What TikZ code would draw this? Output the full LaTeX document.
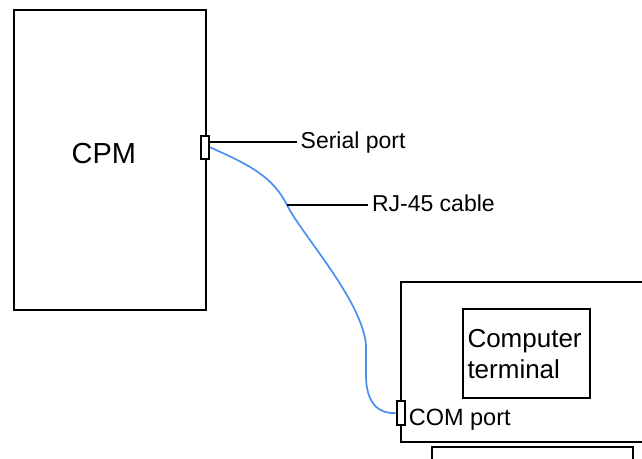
\documentclass[tikz,border=0pt]{standalone}
\usepackage{fontspec}
\setmainfont{Liberation Sans}
\definecolor{cableblue}{RGB}{74,144,240}
\begin{document}
\begin{tikzpicture}[x=1pt,y=-1pt,line width=2pt,
  boxnode/.style={draw,line width=2pt,inner sep=0pt,anchor=north west},
  portbox/.style={draw,fill=white,line width=2pt,minimum width=8.3pt,minimum height=23.3pt,inner sep=0pt},
  lbl/.style={font=\fontsize{23}{27.6}\selectfont,inner xsep=3pt,inner ysep=0pt,text height=16pt,text depth=3pt,anchor=west},
  cable/.style={draw=cableblue,line width=1.7pt}]
\useasboundingbox (0,0) rectangle (642,458);
% CPM
\node[boxnode,minimum width=191.4pt,minimum height=299.7pt] (cpm) at (13.3,9.3) {};
\node[font=\fontsize{29}{34}\selectfont,inner sep=0pt] (cpmtext) at (103.8,153.3) {CPM};
% computer
\draw (643,281.5) -- (401,281.5) -- (401,441.7) -- (643,441.7);
\draw (432,462) -- (432,446.7) -- (633.3,446.7) -- (633.3,462);
\node[boxnode,minimum width=126.8pt,minimum height=89pt] (term) at (461.7,308) {};
\node[font=\fontsize{26}{31}\selectfont,inner sep=0pt,align=left,anchor=base west] (termtext) at (466.5,378.3) {Computer\\terminal};
% ports
\node[portbox] (cpmport) at (204.85,147.3) {};
\node[portbox] (comport) at (400.85,413) {};
\node[font=\fontsize{23.5}{28}\selectfont,inner sep=0pt,anchor=base west] (comtext) at (407.8,425) {COM port};
% cable
\coordinate (rjtap) at (287,205);
\draw[cable] (cpmport.east) .. controls (250,165) and (273,177) .. (rjtap)
  .. controls (302,235) and (362,300) .. (366,345) -- (366,378)
  .. controls (367,405) and (380,414) .. (comport.west);
% labels
\node[lbl] (serial) at (296.7,141.7) {Serial port};
\node[lbl] (rj) at (368,205) {RJ-45 cable};
\draw (cpmport.east |- serial.west) -- (serial.west);
\draw (rjtap) -- (rj.west);
\end{tikzpicture}
\end{document}
